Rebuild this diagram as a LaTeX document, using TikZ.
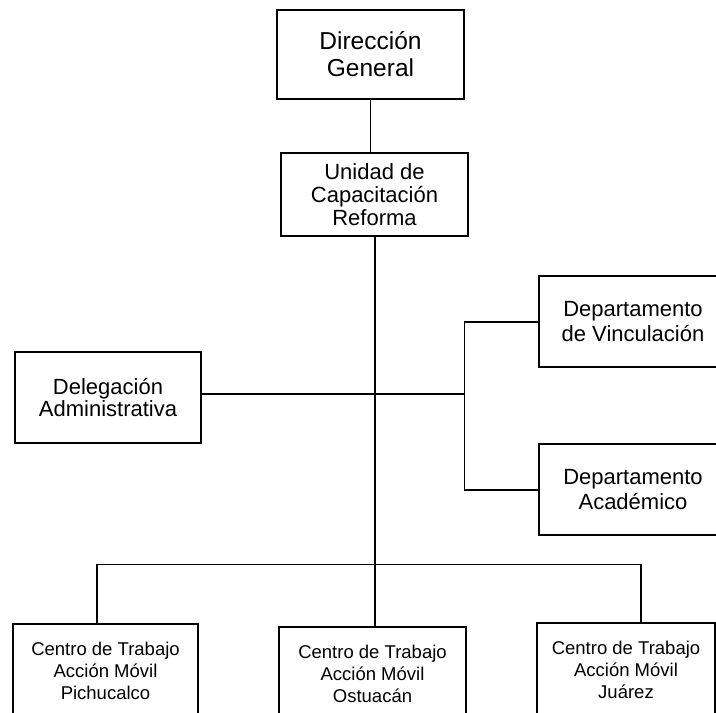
\documentclass[tikz,border=0pt]{standalone}
\usepackage{fontspec}
\setmainfont{Liberation Sans}
\tikzset{
  caja/.style={draw, line width=1.2pt, align=center, inner sep=0pt},
  grueso/.style={line width=2pt},
  fino/.style={line width=1pt}
}

\begin{document}
\begin{tikzpicture}[x=1pt, y=-1pt]
\useasboundingbox (0,0) rectangle (716,713);
% Dirección y Unidad
\node[caja, minimum width=187, minimum height=89, font=\fontsize{24.5}{27}\selectfont] (dir) at (370.5, 54.5) {Dirección\\General};
\node[caja, minimum width=187, minimum height=83, font=\fontsize{22}{23}\selectfont] (uni) at (374.5, 194.5) {Unidad de\\Capacitación\\Reforma};
% Delegación y Departamentos
\node[caja, minimum width=186, minimum height=91, font=\fontsize{22}{20}\selectfont] (del) at (108, 397.5) {Delegación\\Administrativa};
\node[caja, minimum width=188, minimum height=91, font=\fontsize{22}{25}\selectfont] (vin) at (633, 321.5) {Departamento\\de Vinculación};
\node[caja, minimum width=188, minimum height=91, font=\fontsize{22}{25}\selectfont] (aca) at (633, 489.5) {Departamento\\Académico};
% Centros de Trabajo
\node[caja, minimum width=185, minimum height=94, font=\fontsize{18.5}{22}\selectfont] (pic) at (105.5, 671) {Centro de Trabajo\\Acción Móvil\\Pichucalco};
\node[caja, minimum width=187, minimum height=94, font=\fontsize{18.5}{22}\selectfont] (ost) at (372.5, 674) {Centro de Trabajo\\Acción Móvil\\Ostuacán};
\node[caja, minimum width=178, minimum height=94, font=\fontsize{18.5}{22}\selectfont] (jua) at (626, 670) {Centro de Trabajo\\Acción Móvil\\Juárez};
% Puntos de unión
\coordinate (dep) at (464, 394);
\coordinate (bl) at (97, 564);
\coordinate (br) at (641, 564);
% Líneas
\draw[fino] (dir.south) -- (dir.south |- uni.north);
\draw[grueso] (uni.south) -- (uni.south |- ost.north);
\draw[grueso] (del.east |- dep) -- (dep);
\draw[fino] (vin.west -| dep) -- (aca.west -| dep);
\draw[grueso] (dep |- vin.west) -- (vin.west);
\draw[grueso] (dep |- aca.west) -- (aca.west);
\draw[fino] (bl) -- (br);
\draw[grueso] (bl) -- (bl |- pic.north);
\draw[grueso] (br) -- (br |- jua.north);
\end{tikzpicture}
\end{document}
